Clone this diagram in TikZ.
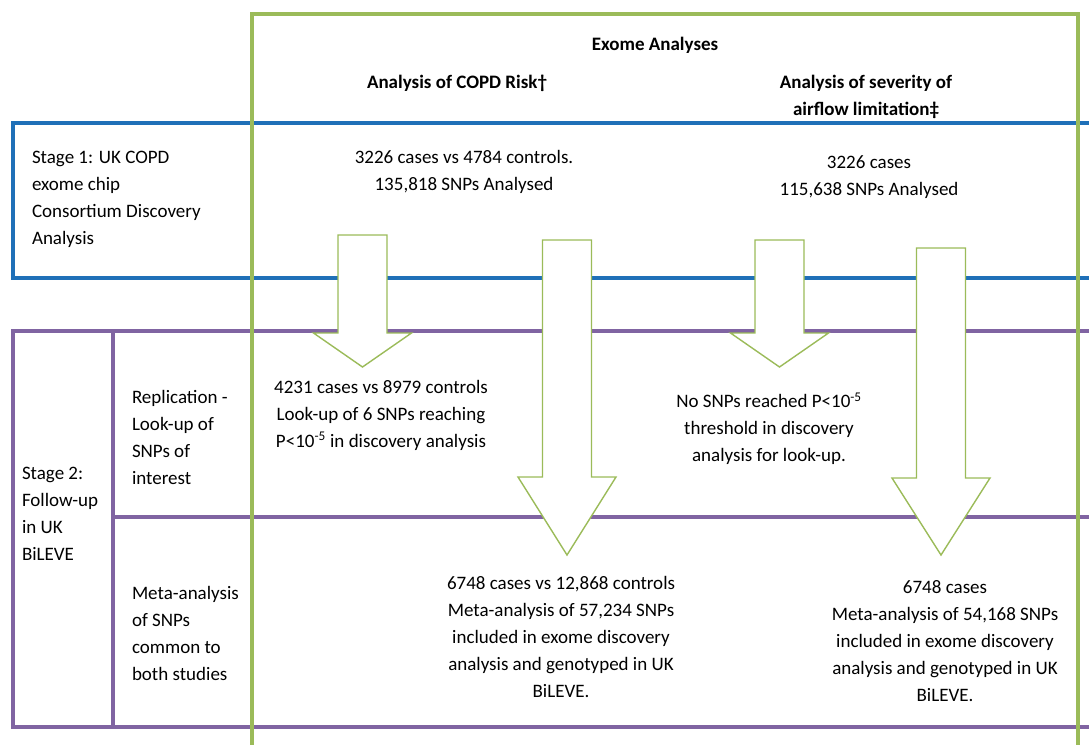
\documentclass[tikz,border=0pt]{standalone}
\usepackage{fontspec}
\setmainfont{Carlito}
\definecolor{exome}{HTML}{9BBB59}
\definecolor{stageone}{HTML}{1F70B8}
\definecolor{stagetwo}{HTML}{8064A2}
\newcommand{\downblock}[4]{%
  \draw[exome,fill=white,line width=1.4pt,line join=miter]
    (#1-24.5,#2) -- (#1+24.5,#2) -- (#1+24.5,#3) -- (#1+49,#3) -- (#1,#4)
    -- (#1-49,#3) -- (#1-24.5,#3) -- cycle;}

\begin{document}
\begin{tikzpicture}[x=1pt,y=-1pt,line width=4pt,
        every node/.style={font=\fontsize{19}{27}\selectfont,inner sep=0pt}]
            \tikzstyle{hd}=[font=\fontsize{19}{27}\selectfont\bfseries,align=center]
            \tikzstyle{txt}=[align=center]
            \tikzstyle{lbl}=[align=left,anchor=west]

            \useasboundingbox (0,0) rectangle (1089,744);
            \clip (0,0) rectangle (1089,744);

            \draw[stageone] (1095,123) -- (13,123) -- (13,278) -- (1095,278);
            \draw[stagetwo] (1095,331) -- (13,331) -- (13,727) -- (1095,727);
            \draw[stagetwo] (113,331) -- (113,727);
            \draw[stagetwo] (113,517) -- (1095,517);

            \downblock{362.5}{235}{333}{367}
            \downblock{567}{240}{477}{555}
            \downblock{779.5}{240}{333}{367}
            \downblock{941}{248}{478}{555}

            \draw[exome,line width=4.5pt] (252,750) -- (252,14) -- (1078,14) -- (1078,750);

            \node[hd] (exome) at (655,45) {Exome Analyses};
            \node[hd] (risk) at (457,83) {Analysis of COPD Risk†};
            \node[hd] (severity) at (866,97) {Analysis of severity of\\airflow limitation‡};

            \node[lbl] (stage1) at (30,199) {Stage 1: UK COPD\\exome chip\\Consortium Discovery\\Analysis};
            \node[txt] (riskA) at (464,172) {3226 cases vs 4784 controls.\\135,818 SNPs Analysed};
            \node[txt] (sevA) at (869,177) {3226 cases\\115,638 SNPs Analysed};

            \node[lbl] (stage2) at (20,514) {Stage 2:\\Follow-up\\in UK\\BiLEVE};
            \node[lbl] (repl) at (130,437) {Replication -\\Look-up of\\SNPs of\\interest};
            \node[lbl] (meta) at (130,633) {Meta-analysis\\of SNPs\\common to\\both studies};

            \node[txt] (riskB) at (381,415) {4231 cases vs 8979 controls\\Look-up of 6 SNPs reaching\\P<10\textsuperscript{-5} in discovery analysis};
            \node[txt] (sevB) at (769,429) {No SNPs reached P<10\textsuperscript{-5}\\threshold in discovery\\analysis for look-up.};
            \node[txt] (riskC) at (561,637) {6748 cases vs 12,868 controls\\Meta-analysis of 57,234 SNPs\\included in exome discovery\\analysis and genotyped in UK\\BiLEVE.};
            \node[txt] (sevC) at (945,641) {6748 cases\\Meta-analysis of 54,168 SNPs\\included in exome discovery\\analysis and genotyped in UK\\BiLEVE.};
        \end{tikzpicture}
\end{document}
